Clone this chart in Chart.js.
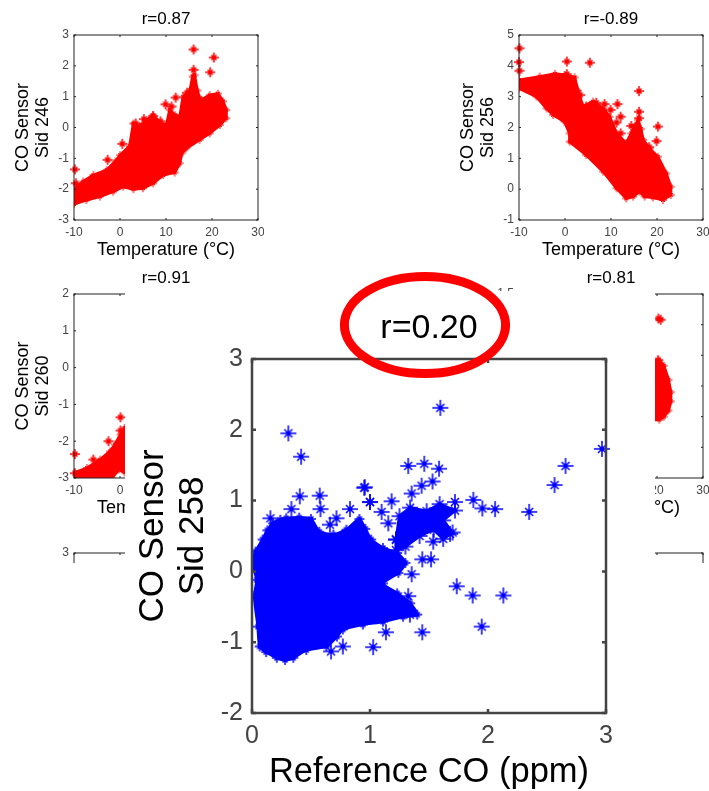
<!DOCTYPE html>
<html>
<head>
<meta charset="utf-8">
<title>CO sensor correlations</title>
<script src="https://cdn.jsdelivr.net/npm/chart.js"></script>
<style>
  html, body { margin: 0; padding: 0; background: #fff; }
  #page { position: relative; width: 709px; height: 791px; overflow: hidden; }
  canvas, .cut, #mask { position: absolute; }
  .cut { overflow: hidden; }
  #mask { left: 125px; top: 291px; width: 530px; height: 500px; background: #fff; }
</style>
</head>
<body>
<div id="page"></div>
<script>
// tick labels
const tempTicks = [-10, 0, 10, 20, 30];
const refTicks = [0, 1, 2, 3];
const sid246Ticks = [-3, -2, -1, 0, 1, 2, 3];
const sid256Ticks = [-1, 0, 1, 2, 3, 4, 5];
const sid260Ticks = [-3, -2, -1, 0, 1, 2];
const sid261Ticks = [-1.5, -1, -0.5, 0, 0.5, 1, 1.5];
const sid258Ticks = [-2, -1, 0, 1, 2, 3];

// outline of the solid part of each cloud
const sid246Cloud = [[-10,-2.0],[-8,-1.75],[-5.8,-1.54],[-2.9,-1.38],[-1,-1.1],[0,-0.9],[2.1,-0.6],[2.9,0.13],[4.2,0.05],[5.8,0.24],[7.2,0.4],[8.8,0.15],[10.1,0.08],[10.8,0.57],[12,0.4],[13,0.35],[13.7,1.0],[15.2,1.2],[15.8,1.65],[16.2,1.7],[16.8,1.2],[17.3,0.95],[17.7,0.9],[19.5,1.05],[21.3,1.1],[22.4,0.85],[23.1,0.57],[23.1,0.3],[21.7,0.08],[19.5,-0.19],[17.3,-0.4],[14.4,-0.68],[13.4,-0.84],[13,-1.16],[11.9,-1.46],[9.4,-1.54],[7.2,-1.81],[5,-1.97],[2.9,-2.0],[0.7,-1.92],[-1.5,-2.08],[-4.4,-2.24],[-7.3,-2.35],[-10,-2.48]];
const sid256Cloud = [[-10,3.54],[-5.5,3.65],[-2.2,3.74],[-0.1,3.7],[2.1,3.63],[2.8,3.2],[3.9,2.68],[6.1,2.84],[8.3,2.62],[9.7,2.35],[11.2,1.81],[13.3,1.49],[14.4,1.81],[15.2,2.05],[15.9,2.24],[16.5,1.95],[17,1.6],[18.4,1.32],[20.2,1.05],[22,0.51],[23,0.08],[23,-0.19],[21.3,-0.35],[19.1,-0.27],[17.3,-0.24],[16.2,-0.08],[14.8,-0.24],[13.3,-0.3],[11.2,0.03],[8.3,0.57],[4.6,1.11],[1,1.54],[1,1.81],[-0.1,2.19],[-2.6,2.41],[-4,2.62],[-6.2,3.0],[-10,3.27]];
const sid260Cloud = [[-10,-2.86],[-7.2,-2.73],[-4.3,-2.5],[-2.2,-2.28],[-1.1,-2.09],[0.1,-1.82],[1,-1.64],[5,-1],[5,-2.8],[1,-2.85],[-0.2,-2.77],[-1.8,-3],[-10,-3]];
const sid261Cloud = [[17,0.42],[20.5,0.42],[21.5,0.33],[22.5,0.1],[23,-0.1],[23,-0.25],[22.5,-0.4],[21.5,-0.5],[20.5,-0.55],[17,-0.55]];
const sid258Cloud = [[0,0.12],[0.03,0.28],[0.09,0.45],[0.13,0.58],[0.18,0.68],[0.24,0.73],[0.29,0.75],[0.4,0.76],[0.5,0.74],[0.57,0.56],[0.69,0.52],[0.8,0.59],[0.91,0.74],[0.96,0.6],[1.01,0.45],[1.11,0.33],[1.23,0.26],[1.3,0.12],[1.24,-0.02],[1.11,-0.17],[1.23,-0.31],[1.34,-0.45],[1.4,-0.61],[1.28,-0.64],[1.11,-0.71],[0.94,-0.75],[0.77,-0.82],[0.72,-0.92],[0.63,-1.06],[0.46,-1.11],[0.35,-1.22],[0.28,-1.25],[0.21,-1.22],[0.12,-1.14],[0.065,-1.06],[0.05,-0.78],[0.02,-0.35],[0.04,-0.12]];
const sid258Lobe = [[1.22,0.45],[1.25,0.78],[1.34,0.9],[1.48,0.85],[1.59,0.95],[1.72,0.86],[1.62,0.72],[1.7,0.55],[1.62,0.46],[1.54,0.59],[1.42,0.5],[1.3,0.35],[1.22,0.3]];

// single readings outside the solid part
const sid246Stray = [[16,2.53],[20.4,2.27],[16,1.87],[19.6,1.79],[12.1,0.97],[9.9,0.75],[0.5,-0.53],[-9.8,-1.36],[-2.7,-1.05],[3.4,0.13],[5.2,0.27],[7.2,0.37],[8.8,0.2],[11.2,0.68],[14.6,1.13],[-9.6,-1.81]];
const sid256Stray = [[-9.9,4.57],[-10,4.12],[-9.9,3.84],[0.4,4.14],[5.4,4.1],[0.4,3.73],[16.1,3.18],[11.4,2.76],[8.6,2.76],[3.3,3.05],[14.4,2.05],[20.2,2.03],[19.9,1.56],[16.1,2.51],[12.1,2.35],[11.2,2.16],[12.1,1.81],[18.3,1.36],[16.1,2.3],[9.9,2.57],[4.6,2.68],[6.8,2.8]];
const sid260Stray = [[0.1,-1.35],[-2.5,-2.0],[-9.8,-2.35],[-5.8,-2.5],[0.1,-1.71],[-9.8,-2.87]];
const sid261Stray = [[20.3,1.1],[20.8,1.08],[20.2,0.42]];
const sid258Stray = [[1.596,2.31],[2.966,1.73],[2.657,1.49],[2.564,1.22],[2.349,0.84],[2.06,0.88],[1.952,0.89],[1.876,1.01],[1.324,1.49],[1.46,1.52],[1.585,1.45],[1.53,1.27],[1.437,1.21],[1.353,1.1],[0.956,1.19],[1.0,0.98],[1.183,0.99],[1.098,0.84],[1.155,0.68],[1.443,0.17],[1.517,0.17],[1.353,-0.04],[1.735,-0.21],[1.87,-0.34],[2.13,-0.34],[1.947,-0.78],[1.443,-0.86],[1.135,-0.86],[1.027,-1.07],[1.324,-0.35],[1.338,-0.61],[1.678,0.53],[1.536,0.42],[1.72,0.98],[0.308,1.95],[0.416,1.62],[0.156,0.75],[0.334,0.88],[0.405,1.06],[0.574,1.07],[0.58,0.88],[0.716,0.75],[0.66,0.66],[0.83,0.88],[0.951,1.18],[1.0,0.98],[0.67,-1.13],[0.77,-1.06]];

// the hand drawn ring round the r value, in axis units of the big panel
const ringCentre = [1.466, 3.48];
const ringRadius = [0.683, 0.685];

const RED = '#ff0000';
const BLUE = '#0000ff';
const FONT = '"Liberation Sans", Arial, sans-serif';

const page = document.getElementById('page');

// matlab style * : long upright cross, shorter diagonals, heavy centre
function starMark(color, r, w) {
  const c = document.createElement('canvas');
  const size = r * 2 + 2;
  c.width = size;
  c.height = size;
  const g = c.getContext('2d');
  const m = size / 2;
  const d = r * 0.5;
  g.strokeStyle = color;
  g.fillStyle = color;
  g.lineWidth = w;
  g.beginPath();
  g.moveTo(m - r, m); g.lineTo(m + r, m);
  g.moveTo(m, m - r); g.lineTo(m, m + r);
  g.moveTo(m - d, m - d); g.lineTo(m + d, m + d);
  g.moveTo(m - d, m + d); g.lineTo(m + d, m - d);
  g.stroke();
  g.beginPath();
  g.arc(m, m, r * 0.3, 0, Math.PI * 2);
  g.fill();
  return c;
}

const toXY = pts => pts.map(p => ({ x: p[0], y: p[1] }));

// box round the plot with short inward ticks on all four sides
const framePlugin = {
  id: 'frame',
  afterDatasetsDraw(chart, args, opts) {
    const { ctx, chartArea: a, scales } = chart;
    ctx.save();
    ctx.strokeStyle = opts.color;
    ctx.lineWidth = opts.width;
    ctx.strokeRect(a.left, a.top, a.right - a.left, a.bottom - a.top);
    ctx.beginPath();
    scales.x.ticks.forEach(t => {
      const px = scales.x.getPixelForValue(t.value);
      ctx.moveTo(px, a.bottom); ctx.lineTo(px, a.bottom - opts.tick);
      ctx.moveTo(px, a.top); ctx.lineTo(px, a.top + opts.tick);
    });
    scales.y.ticks.forEach(t => {
      const py = scales.y.getPixelForValue(t.value);
      ctx.moveTo(a.left, py); ctx.lineTo(a.left + opts.tick, py);
      ctx.moveTo(a.right, py); ctx.lineTo(a.right - opts.tick, py);
    });
    ctx.stroke();
    ctx.restore();
  }
};

const ringPlugin = {
  id: 'ring',
  afterDraw(chart, args, opts) {
    if (!opts.show) return;
    const { ctx, scales } = chart;
    const cx = scales.x.getPixelForValue(ringCentre[0]);
    const cy = scales.y.getPixelForValue(ringCentre[1]);
    const rx = Math.abs(scales.x.getPixelForValue(ringCentre[0] + ringRadius[0]) - cx);
    const ry = Math.abs(scales.y.getPixelForValue(ringCentre[1] + ringRadius[1]) - cy);
    ctx.save();
    ctx.strokeStyle = RED;
    ctx.lineWidth = 9;
    ctx.beginPath();
    ctx.ellipse(cx, cy, rx, ry, 0, 0, Math.PI * 2);
    ctx.stroke();
    ctx.restore();
  }
};

function cloudSet(pts, color, mark, width, bend) {
  return {
    data: toXY(pts.concat([pts[0]])),
    showLine: true,
    fill: 'shape',
    tension: bend,
    backgroundColor: color,
    borderColor: color,
    borderWidth: width,
    pointStyle: mark,
    pointRadius: 3
  };
}

function straySet(pts, color, mark) {
  return {
    data: toXY(pts),
    showLine: false,
    clip: false,
    pointStyle: mark,
    pointRadius: 4,
    backgroundColor: color,
    borderColor: color
  };
}

function makeChart(host, cfg) {
  const el = document.createElement('canvas');
  el.width = cfg.w;
  el.height = cfg.h;
  el.style.left = cfg.left + 'px';
  el.style.top = cfg.top + 'px';
  el.style.width = cfg.w + 'px';
  el.style.height = cfg.h + 'px';
  host.appendChild(el);
  const s = cfg.sizes;
  const axis = (ticks, title, fitted) => ({
    type: 'linear',
    min: ticks[0],
    max: ticks[ticks.length - 1],
    grid: { display: false, drawTicks: false },
    border: { display: false },
    afterBuildTicks: scale => { scale.ticks = ticks.map(v => ({ value: v })); },
    afterFit: fitted,
    ticks: {
      autoSkip: false,
      maxRotation: 0,
      color: '#444',
      font: { family: FONT, size: s.tick },
      callback: v => String(v)
    },
    title: title
  });
  const xAxis = axis(cfg.xTicks, {
    display: true,
    text: cfg.xLabel,
    color: '#000',
    font: { family: FONT, size: s.xLabel, lineHeight: 1 },
    padding: { top: 0, bottom: s.xTitleGap }
  }, scale => {
    scale.height = cfg.h - cfg.area.bottom;
    scale.paddingLeft = 0;
    scale.paddingRight = 0;
  });
  xAxis.ticks.padding = s.xTickGap;
  const yAxis = axis(cfg.yTicks, {
    display: true,
    text: cfg.yLabel,
    color: '#000',
    font: { family: FONT, size: s.label, lineHeight: s.labelLine / s.label },
    padding: { top: s.yTitleGap, bottom: 0 }
  }, scale => {
    scale.width = cfg.area.left;
    scale.paddingTop = 0;
    scale.paddingBottom = 0;
  });
  yAxis.ticks.padding = s.yTickGap;
  return new Chart(el, {
    type: 'scatter',
    data: { datasets: cfg.datasets },
    plugins: [framePlugin, ringPlugin],
    options: {
      responsive: false,
      animation: false,
      devicePixelRatio: 1,
      layout: {
        autoPadding: false,
        padding: { left: 0, top: cfg.title ? 0 : cfg.area.top, right: cfg.w - cfg.area.right, bottom: 0 }
      },
      scales: { x: xAxis, y: yAxis },
      plugins: {
        legend: { display: false },
        tooltip: { enabled: false },
        title: {
          display: !!cfg.title,
          fullSize: false,
          text: cfg.title,
          color: '#000',
          font: { family: FONT, size: s.title, weight: 'normal', lineHeight: 1 },
          padding: { top: cfg.titleTop, bottom: cfg.area.top - cfg.titleTop - s.title }
        },
        frame: { color: s.frame, width: s.frameWidth, tick: s.tickMark },
        ring: { show: !!cfg.ring }
      }
    }
  });
}

const smallSizes = {
  tick: 12, label: 18, xLabel: 18, labelLine: 20, title: 17,
  xTickGap: 5, yTickGap: 5, xTitleGap: 6, yTitleGap: 13,
  frame: '#222', frameWidth: 1, tickMark: 2
};
const bigSizes = {
  tick: 25, label: 35, xLabel: 34.5, labelLine: 40, title: 34,
  xTickGap: 8, yTickGap: 9, xTitleGap: 1, yTitleGap: 8,
  frame: '#444', frameWidth: 2.5, tickMark: 4
};

const redStar = starMark(RED, 5, 1.5);
const redEdge = starMark(RED, 4, 1);
const blueStar = starMark(BLUE, 8, 1.5);
const blueEdge = starMark(BLUE, 5, 1.5);

function smallPanel(host, left, top, h, title, sid, yTicks, cloud, stray) {
  const sets = [];
  if (cloud) sets.push(cloudSet(cloud, RED, redEdge, 3, 0));
  if (stray) sets.push(straySet(stray, RED, redStar));
  makeChart(host, {
    left: left, top: top, w: 264, h: h,
    area: { left: 74, top: 35, right: 258, bottom: h - 45 },
    sizes: smallSizes,
    title: title,
    titleTop: 11,
    xTicks: tempTicks,
    yTicks: yTicks,
    xLabel: 'Temperature (°C)',
    yLabel: ['CO Sensor', sid],
    datasets: sets
  });
}

smallPanel(page, 0, 0, 265, 'r=0.87', 'Sid 246', sid246Ticks, sid246Cloud, sid246Stray);
smallPanel(page, 445, 0, 265, 'r=-0.89', 'Sid 256', sid256Ticks, sid256Cloud, sid256Stray);
smallPanel(page, 0, 259, 264, 'r=0.91', 'Sid 260', sid260Ticks, sid260Cloud, sid260Stray);
smallPanel(page, 445, 259, 264, 'r=0.81', 'Sid 261', sid261Ticks, sid261Cloud, sid261Stray);

// third row: only the top edge of these two panels is left in the picture
[0, 445].forEach(left => {
  const cut = document.createElement('div');
  cut.className = 'cut';
  cut.style.left = left + 'px';
  cut.style.top = '518px';
  cut.style.width = '264px';
  cut.style.height = '45px';
  page.appendChild(cut);
  smallPanel(cut, 0, 0, 265, '', '', sid246Ticks, null, null);
});

const mask = document.createElement('div');
mask.id = 'mask';
page.appendChild(mask);

makeChart(page, {
  left: 125, top: 265, w: 530, h: 526,
  area: { left: 127, top: 94, right: 481, bottom: 448 },
  sizes: bigSizes,
  title: 'r=0.20',
  titleTop: 47,
  ring: true,
  xTicks: refTicks,
  yTicks: sid258Ticks,
  xLabel: 'Reference CO (ppm)',
  yLabel: ['CO Sensor', 'Sid 258'],
  datasets: [
    cloudSet(sid258Cloud, BLUE, blueEdge, 3, 0.2),
    cloudSet(sid258Lobe, BLUE, blueStar, 3, 0),
    straySet(sid258Stray, BLUE, blueStar)
  ]
});
</script>
</body>
</html>
